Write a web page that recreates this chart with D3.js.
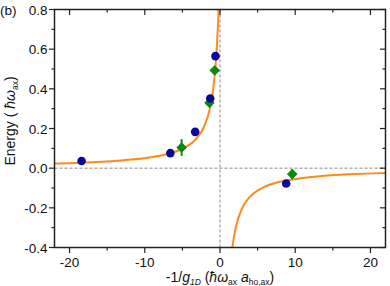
<!DOCTYPE html>
<html><head><meta charset="utf-8">
<script src="https://cdn.jsdelivr.net/npm/d3@7/dist/d3.min.js"></script>
<style>body{margin:0;background:#fff}svg{display:block}text{font-family:"Liberation Sans",Arial,sans-serif;fill:#111}</style>
</head><body>
<svg id="c" width="390" height="286"></svg>
<script>
// Data
const blueX = [-18.4, -6.6, -3.3, -1.3, -0.6, 8.8];
const blueY = [0.036, 0.076, 0.183, 0.351, 0.565, -0.077];
const greenX = [-5.1, -1.4, -0.7, 9.6];
const greenY = [0.104, 0.329, 0.493, -0.030];
const greenErr = [0.042, 0.02, 0.02, 0.025];
// theory curve, left branch
const leftX = [-22, -21.5, -17.12, -12.75, -10.13, -7.13, -4.87, -3.12, -2.24, -1.35, -0.905, -0.629, -0.438, -0.296, -0.182, -0.132];
const leftY = [0.0235, 0.024, 0.03, 0.04, 0.05, 0.07, 0.1, 0.15, 0.2, 0.3, 0.4, 0.5, 0.6, 0.7, 0.8, 0.85];
// right branch
const rightX = [1.376, 1.495, 1.644, 2.088, 2.971, 3.848, 5.602, 7.853, 10.85, 13.48, 17.85, 21.35, 22];
const rightY = [-0.5, -0.45, -0.4, -0.3, -0.2, -0.15, -0.1, -0.07, -0.05, -0.04, -0.03, -0.025, -0.0243];
const xTicks = [-20, -10, 0, 10, 20];
const yTicks = [-0.4, -0.2, 0.0, 0.2, 0.4, 0.6, 0.8];

const L = 54.5, R = 385.5, T = 9.5, B = 247.5;
const svg = d3.select("#c");
const x = d3.scaleLinear().domain([-22, 22]).range([L, R]);
const y = d3.scaleLinear().domain([-0.4, 0.8]).range([B, T]);

svg.append("defs").append("clipPath").attr("id","clip")
  .append("rect").attr("x",L).attr("y",T).attr("width",R-L).attr("height",B-T);

// dashed zero lines
const g0 = svg.append("g").attr("clip-path","url(#clip)");
g0.append("line").attr("x1",L).attr("x2",R).attr("y1",y(0)).attr("y2",y(0))
  .attr("stroke","#888").attr("stroke-width",1).attr("stroke-dasharray","3,2");
g0.append("line").attr("x1",x(0)).attr("x2",x(0)).attr("y1",T).attr("y2",B)
  .attr("stroke","#888").attr("stroke-width",1).attr("stroke-dasharray","3,2");

// curves
const line = d3.line().x(d=>x(d[0])).y(d=>y(d[1])).curve(d3.curveMonotoneX);
g0.append("path").datum(leftX.map((v,i)=>[v,leftY[i]])).attr("d",line)
  .attr("fill","none").attr("stroke","#ff8a1a").attr("stroke-width",2);
g0.append("path").datum(rightX.map((v,i)=>[v,rightY[i]])).attr("d",line)
  .attr("fill","none").attr("stroke","#ff8a1a").attr("stroke-width",2);

// green error bars + markers
const gg = svg.append("g");
greenX.forEach((v,i)=>{
  gg.append("line").attr("x1",x(v)).attr("x2",x(v))
    .attr("y1",y(greenY[i]-greenErr[i])).attr("y2",y(greenY[i]+greenErr[i]))
    .attr("stroke","#0a8a0a").attr("stroke-width",2);
});
gg.selectAll("path.gm").data(greenX.map((v,i)=>[v,greenY[i]])).join("path")
  .attr("d", d3.symbol(d3.symbolSquare, 42))
  .attr("transform", d=>`translate(${x(d[0])},${y(d[1])}) rotate(45)`)
  .attr("fill","#0a8a0a").attr("stroke","#0a8a0a").attr("stroke-width",1).attr("stroke-linejoin","round");
// blue markers
svg.append("g").selectAll("circle").data(blueX.map((v,i)=>[v,blueY[i]])).join("circle")
  .attr("cx",d=>x(d[0])).attr("cy",d=>y(d[1])).attr("r",4.3).attr("fill","#0808a0");

// axes
const fs = "13.5px";
const ax = svg.append("g").attr("stroke","#222");
const xMinor = d3.range(-20, 21, 5);
const yMinor = d3.range(-0.4, 0.81, 0.1);
xMinor.forEach(v=>{
  const major = xTicks.includes(v);
  const len = major ? 5.5 : 3;
  ax.append("line").attr("x1",x(v)).attr("x2",x(v)).attr("y1",B).attr("y2",B+len).attr("stroke-width",1.2);
  ax.append("line").attr("x1",x(v)).attr("x2",x(v)).attr("y1",T).attr("y2",T+len).attr("stroke-width",1.2);
});
yMinor.forEach((v,i)=>{
  const major = i%2===0;
  const len = major ? 5.5 : 3;
  ax.append("line").attr("x1",L-len).attr("x2",L).attr("y1",y(v)).attr("y2",y(v)).attr("stroke-width",1.2);
  ax.append("line").attr("x1",R-len).attr("x2",R).attr("y1",y(v)).attr("y2",y(v)).attr("stroke-width",1.2);
});
ax.append("rect").attr("x",L).attr("y",T).attr("width",R-L).attr("height",B-T)
  .attr("fill","none").attr("stroke-width",1.5);

svg.append("g").selectAll("text").data(xTicks).join("text")
  .attr("x",d=>x(d)).attr("y",B+19).attr("text-anchor","middle").attr("font-size",fs)
  .text(d=>d3.format("d")(d).replace("−","-"));
svg.append("g").selectAll("text").data(yTicks).join("text")
  .attr("x",L-7).attr("y",d=>y(d)+5).attr("text-anchor","end").attr("font-size",fs)
  .text(d=>d.toFixed(1));

// labels
svg.append("text").attr("x",0).attr("y",15).attr("font-size","13.5px").text("(b)");

const yl = svg.append("text").attr("transform","translate(15,121) rotate(-90)")
  .attr("text-anchor","middle").attr("font-size","14px");
yl.append("tspan").text("Energy ( ");
yl.append("tspan").attr("font-style","italic").text("ħω");
yl.append("tspan").attr("font-size","8.5px").attr("dy",3).text("ax");
yl.append("tspan").attr("dy",-3).text(")");

const xl = svg.append("text").attr("x",220).attr("y",282)
  .attr("text-anchor","middle").attr("font-size","14px");
xl.append("tspan").text("-1/");
xl.append("tspan").attr("font-style","italic").text("g");
xl.append("tspan").attr("font-style","italic").attr("font-size","8.5px").attr("dy",3).text("1D");
xl.append("tspan").attr("dy",-3).text(" (");
xl.append("tspan").attr("font-style","italic").text("ħω");
xl.append("tspan").attr("font-size","8.5px").attr("dy",3).text("ax");
xl.append("tspan").attr("dy",-3).text(" ");
xl.append("tspan").attr("font-style","italic").text("a");
xl.append("tspan").attr("font-size","8.5px").attr("dy",3).text("ho,ax");
xl.append("tspan").attr("dy",-3).text(")");
</script>
</body></html>
